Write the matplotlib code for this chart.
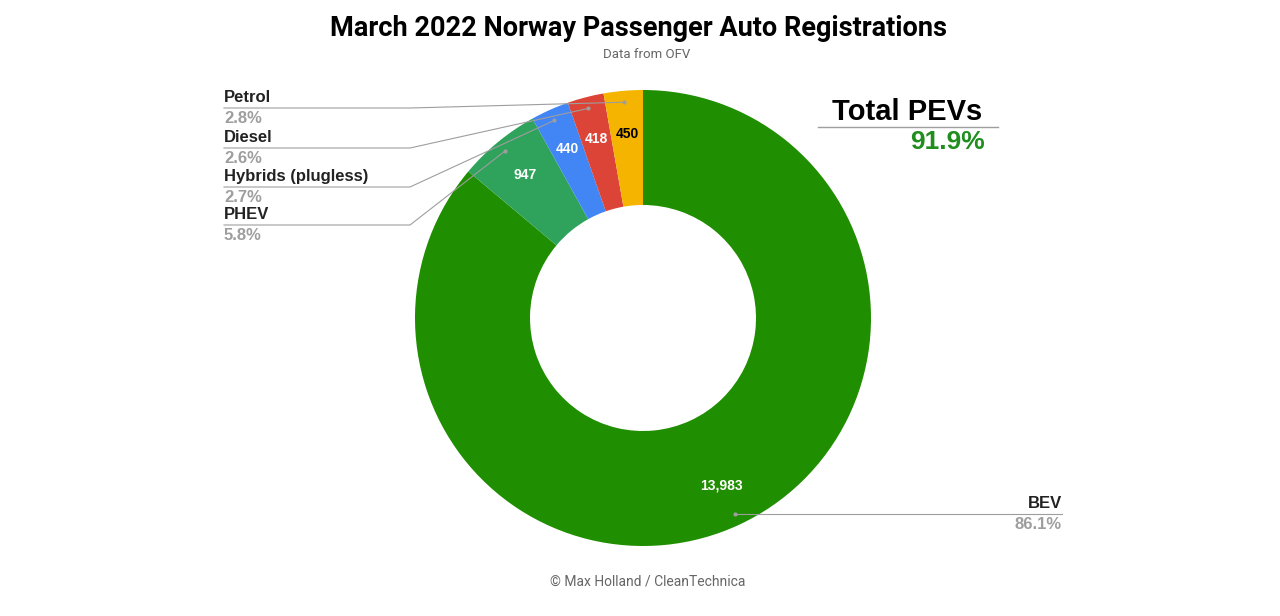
import matplotlib
matplotlib.use("Agg")
import matplotlib.pyplot as plt
import numpy as np

# data
categories = ["BEV", "PHEV", "Hybrids (plugless)", "Diesel", "Petrol"]
registrations = [13983, 947, 440, 418, 450]
shares = ["86.1%", "5.8%", "2.7%", "2.6%", "2.8%"]
colors = ["#1f8e00", "#2fa35b", "#4285f4", "#db4437", "#f4b400"]
value_colors = ["white", "white", "white", "white", "black"]
total_pev = "91.9%"

W, H = 1280, 616
fig = plt.figure(figsize=(12.8, 6.16), dpi=100)
ax = fig.add_axes([0, 0, 1, 1])

def Y(y):
    return H - y

cx, cy, R = 643, Y(318), 228
wedges, _, autotexts = ax.pie(
    registrations, colors=colors, startangle=90, counterclock=False,
    center=(cx, cy), radius=R, frame=True,
    wedgeprops=dict(width=115, linewidth=0),
    autopct=lambda p: f"{p * sum(registrations) / 100:,.0f}",
    pctdistance=0.81,
    textprops=dict(fontsize=10, fontweight="bold", family="Liberation Sans"))
ax.set_xlim(0, W)
ax.set_ylim(0, H)
ax.set_aspect("equal")
ax.axis("off")
for t, c in zip(autotexts, value_colors):
    t.set_color(c)

label_font = dict(family="Liberation Sans", fontweight="bold", fontsize=12)

# leader lines and labels
left_label_y = {"Petrol": 108, "Diesel": 148, "Hybrids (plugless)": 187, "PHEV": 225}
for w, name, share in zip(wedges, categories, shares):
    mid = np.deg2rad((w.theta1 + w.theta2) / 2)
    px = cx + 0.95 * R * np.cos(mid)
    py = cy + 0.95 * R * np.sin(mid)
    if name in left_label_y:
        ly = Y(left_label_y[name])
        ax.plot([224, 410, px], [ly, ly, py], color="#9e9e9e", lw=0.8)
        ax.text(224, ly + 3, name, ha="left", va="bottom", color="#222222", **label_font)
        ax.text(224, ly - 3, share, ha="left", va="top", color="#9e9e9e", **label_font)
    else:
        ax.plot([px, 1062], [py, py], color="#9e9e9e", lw=0.8)
        ax.text(1062, py + 3, name, ha="right", va="bottom", color="#222222", **label_font)
        ax.text(1062, py - 3, share, ha="right", va="top", color="#9e9e9e", **label_font)
    ax.plot(px, py, "o", color="#9e9e9e", ms=2)

# Total PEVs callout
ax.text(907, Y(112), "Total PEVs", ha="center", va="center",
        family="Liberation Sans", fontweight="bold", fontsize=21, color="black")
ax.plot([818, 998], [Y(127), Y(127)], color="#9e9e9e", lw=1)
ax.text(985, Y(142), total_pev, ha="right", va="center",
        family="Liberation Sans", fontweight="bold", fontsize=19, color="#1f8e1f")

# titles
ax.text(639, Y(28), "March 2022 Norway Passenger Auto Registrations", ha="center", va="center",
        family="Roboto", fontweight="bold", fontsize=19.5, color="black")
ax.text(647, Y(54), "Data from OFV", ha="center", va="center",
        family="Roboto", fontsize=9.5, color="#666666")
ax.text(648, Y(581), "\u00a9 Max Holland / CleanTechnica", ha="center", va="center",
        family="Roboto", fontsize=10, color="#666666")

fig.savefig("out.png", dpi=100, facecolor="white")
